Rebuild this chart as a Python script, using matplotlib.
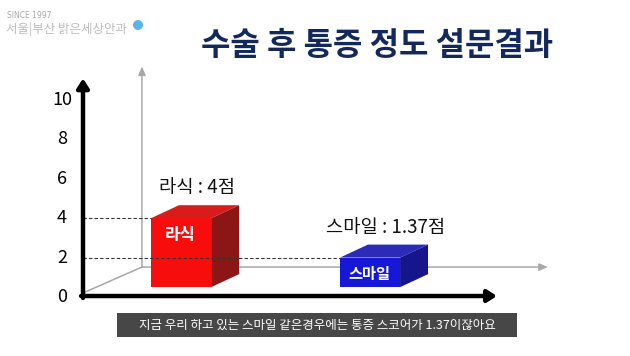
import matplotlib
matplotlib.use("Agg")
import matplotlib.pyplot as plt
from matplotlib.patches import Rectangle, Polygon, Ellipse

plt.rcParams['font.family'] = ['Noto Sans CJK KR', 'DejaVu Sans']

# Data
groups = ["라식", "스마일"]
scores = ["4", "1.37"]
drawn_levels = [4, 2]          # height the bars reach on the drawn scale
yticks = [0, 2, 4, 6, 8, 10]
front_colors = ["#f80d0d", "#1717d8"]
top_colors = ["#d81c1c", "#2b2bb8"]
side_colors = ["#8c1616", "#15158c"]

title = "수술 후 통증 정도 설문결과"
caption = "지금 우리 하고 있는 스마일 같은경우에는 통증 스코어가 1.37이잖아요"

W, H = 630, 356
fig = plt.figure(figsize=(W / 100, H / 100), dpi=100)
fig.patch.set_facecolor("white")

# axes: black y axis at x=83px, zero at y=297px, ~19.7px per unit
ax = fig.add_axes([83 / W, (H - 297) / H, 414 / W, 197 / H])
ax.set_xlim(-0.519, 1.672)
ax.set_ylim(0, 10)
ax.set_axis_off()

x0, xr = -0.519, 1.672
hw = 0.159          # half width of the front face
dx, dy = 0.148, 0.66  # depth offset of the cubes
base = 0.5          # floor level of the front faces

gray_arrow = dict(arrowstyle="-|>,head_length=0.5,head_width=0.22",
                  color="#a8a8a8", lw=1.1, shrinkA=0, shrinkB=0)
black_arrow = dict(arrowstyle="-|>,head_length=0.55,head_width=0.35",
                   color="black", lw=3.2, shrinkA=0, shrinkB=0)

# gray back wall axes
gx, gy = -0.207, 1.52
ax.plot([x0 + 0.011, gx], [0.25, gy], color="#a8a8a8", lw=1.1, zorder=1, clip_on=False)
ax.annotate("", xy=(gx, 11.7), xytext=(gx, gy), arrowprops=gray_arrow,
            annotation_clip=False, zorder=1)
ax.annotate("", xy=(1.941, gy), xytext=(gx, gy), arrowprops=gray_arrow,
            annotation_clip=False, zorder=1)

# cubes
for i, (g, s, lv) in enumerate(zip(groups, scores, drawn_levels)):
    x = i
    ax.add_patch(Rectangle((x - hw, base), 2 * hw, lv - base, facecolor=front_colors[i],
                           edgecolor="none", zorder=3, clip_on=False))
    ax.add_patch(Polygon([(x - hw, lv), (x + hw, lv), (x + hw + dx, lv + dy), (x - hw + dx, lv + dy)],
                         closed=True, facecolor=top_colors[i], edgecolor="none", zorder=3, clip_on=False))
    ax.add_patch(Polygon([(x + hw, base), (x + hw + dx, base + dy), (x + hw + dx, lv + dy), (x + hw, lv)],
                         closed=True, facecolor=side_colors[i], edgecolor="none", zorder=3, clip_on=False))
    # dashed guide from the axis to the bar
    ax.plot([x0, x - hw], [lv, lv], color="#333333", lw=0.8, ls=(0, (3, 2)), zorder=4, clip_on=False)
    # label inside the front face
    ax.annotate(g, xy=(x - 0.005, lv), xytext=(0, -12), textcoords="offset points",
                ha="center", va="center", color="white", fontsize=12 if i == 0 else 11,
                fontweight="bold", zorder=5, annotation_clip=False)
    # score label above the cube
    ax.annotate(f"{g} : {s}점", xy=(x + dx / 2 + 0.01, lv + dy), xytext=(0, 5),
                textcoords="offset points", ha="center", va="bottom", fontsize=13.5,
                fontweight="medium", color="#111111", zorder=5, annotation_clip=False)

# black axes with arrows
ax.annotate("", xy=(x0, 11.1), xytext=(x0, -0.05), arrowprops=black_arrow,
            annotation_clip=False, zorder=6)
ax.annotate("", xy=(xr, 0.05), xytext=(x0 - 0.01, 0.05), arrowprops=black_arrow,
            annotation_clip=False, zorder=6)

# y tick labels
for t in yticks:
    ax.text(-0.0507, t, str(t), transform=ax.get_yaxis_transform(),
            ha="center", va="center", fontsize=13, color="black")

# title
fig.text(377.5 / W, 1 - 45.5 / H, title, ha="center", va="center",
         fontsize=23, fontweight="bold", color="#13295b")

# logo
fig.text(7 / W, 1 - 15 / H, "SINCE 1997", ha="left", va="center",
         fontsize=5.5, color="#a8a8a8", family=["DejaVu Sans"])
fig.text(6 / W, 1 - 29 / H, "서울|부산 밝은세상안과", ha="left", va="center",
         fontsize=9, color="#bdbdbd")
fig.add_artist(Ellipse((138 / W, 1 - 25 / H), 10 / W, 10 / H, transform=fig.transFigure,
                       facecolor="#5ab6ea", edgecolor="none"))

# caption bar
fig.add_artist(Rectangle((117 / W, 1 - 337 / H), 400 / W, 24 / H, transform=fig.transFigure,
                         facecolor="#474747", edgecolor="none", zorder=0))
fig.text(317 / W, 1 - 325 / H, caption, ha="center", va="center",
         fontsize=9, color="white", zorder=1)

fig.savefig("out.png", dpi=100)
